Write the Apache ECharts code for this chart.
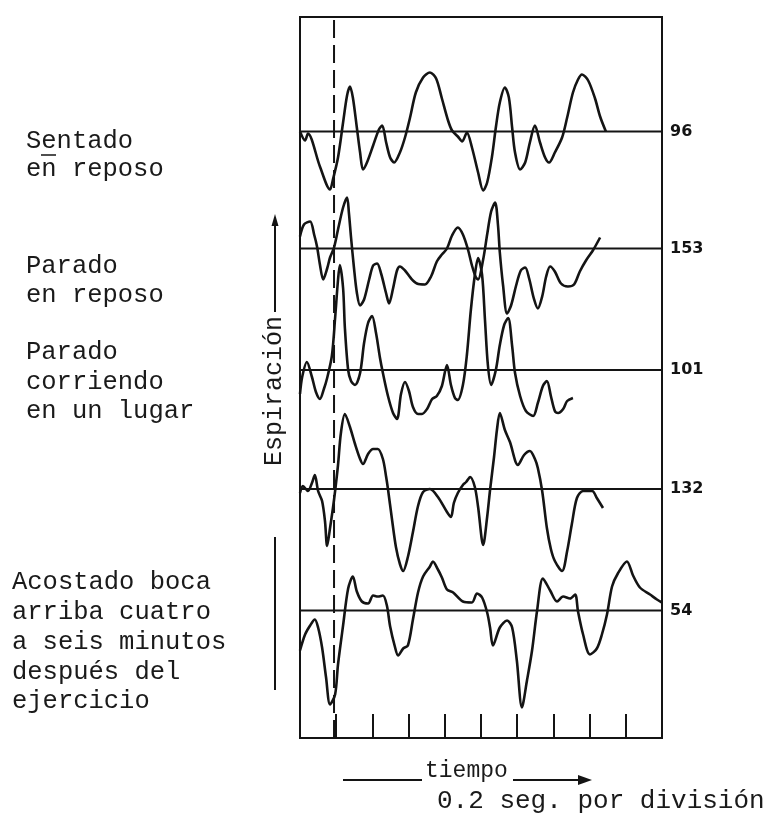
<!DOCTYPE html>
<html><head><meta charset="utf-8">
<script src="https://cdn.jsdelivr.net/npm/echarts/dist/echarts.min.js"></script>
<style>html,body{margin:0;padding:0;background:#fff}#c{width:770px;height:824px}</style>
</head><body><div id="c"></div>
<script>
// time in divisions (0.2 s per division); amplitude = deflection from each trace's baseline
const timeRange = [-1, 9];
const divisionTicks = [0, 1, 2, 3, 4, 5, 6, 7, 8];
const markerTime = -0.06;
const traceLabels = ['96', '153', '101', '132', '54'];
const baselineLevels = [606.5, 489.5, 368, 249, 127.5];

const sentadoReposo = [[-1,0],[-0.86,-9],[-0.78,-2],[-0.45,-35],[-0.17,-58],[-0.09,-48],[0.05,-26],[0.19,9],[0.30,36],[0.38,45],[0.46,34],[0.57,4],[0.66,-21],[0.74,-38],[0.85,-31],[1.02,-14],[1.18,2],[1.27,6],[1.38,-11],[1.49,-26],[1.60,-31],[1.76,-21],[1.90,-6],[2.04,14],[2.20,39],[2.40,54],[2.59,59],[2.76,53],[2.92,33],[3.09,11],[3.20,1],[3.36,-5],[3.48,-10],[3.61,-1],[3.75,-16],[3.92,-41],[4.06,-59],[4.17,-51],[4.30,-26],[4.41,4],[4.52,29],[4.66,44],[4.77,34],[4.86,4],[4.94,-21],[5.08,-38],[5.22,-31],[5.35,-11],[5.49,6],[5.63,-11],[5.77,-26],[5.88,-31],[6.04,-21],[6.24,-6],[6.38,14],[6.54,39],[6.68,52],[6.79,57],[6.96,51],[7.15,33],[7.29,15],[7.45,0]];

const paradoReposo = [[-1,12],[-0.89,24],[-0.72,27],[-0.61,14],[-0.53,2],[-0.45,-16],[-0.36,-31],[-0.25,-20],[-0.17,-9],[-0.06,1],[0.05,19],[0.19,41],[0.30,51],[0.35,36],[0.41,11],[0.49,-19],[0.57,-44],[0.66,-57],[0.77,-51],[0.91,-31],[1.02,-17],[1.13,-15],[1.24,-25],[1.38,-45],[1.46,-55],[1.57,-40],[1.68,-22],[1.76,-18],[1.90,-22],[2.07,-30],[2.23,-35],[2.45,-36],[2.62,-28],[2.78,-13],[2.92,-6],[3.06,0],[3.20,13],[3.36,21],[3.50,14],[3.64,-1],[3.75,-17],[3.86,-29],[3.92,-31],[4.06,-11],[4.17,14],[4.28,37],[4.39,46],[4.47,23],[4.52,-4],[4.61,-37],[4.72,-65],[4.83,-57],[4.97,-37],[5.10,-22],[5.22,-19],[5.33,-30],[5.46,-50],[5.57,-60],[5.69,-48],[5.80,-28],[5.91,-18],[6.04,-23],[6.21,-35],[6.40,-38],[6.57,-36],[6.73,-23],[6.90,-12],[7.09,-2],[7.29,11]];

const paradoCorriendo = [[-1,-24],[-0.94,-7],[-0.81,8],[-0.67,-7],[-0.56,-22],[-0.45,-29],[-0.34,-19],[-0.25,-8],[-0.12,14],[-0.03,52],[0.05,90],[0.10,105],[0.19,82],[0.24,42],[0.33,0],[0.41,-11],[0.52,-15],[0.66,-3],[0.77,27],[0.88,47],[0.99,54],[1.10,37],[1.21,12],[1.29,-3],[1.43,-26],[1.57,-43],[1.68,-49],[1.79,-24],[1.90,-12],[2.01,-21],[2.12,-37],[2.26,-44],[2.37,-44],[2.51,-39],[2.65,-29],[2.78,-26],[2.92,-16],[3.06,5],[3.17,-15],[3.28,-28],[3.36,-30],[3.50,-15],[3.61,15],[3.72,60],[3.83,95],[3.92,112],[4.03,95],[4.11,50],[4.19,5],[4.28,-15],[4.41,0],[4.52,25],[4.64,45],[4.75,52],[4.86,24],[4.94,-3],[5.08,-26],[5.24,-41],[5.44,-46],[5.57,-33],[5.71,-16],[5.82,-11],[5.93,-26],[6.04,-41],[6.13,-43],[6.27,-39],[6.38,-31],[6.54,-28]];

const paradoDespues = [[-1,-4],[-0.92,3],[-0.78,-2],[-0.67,6],[-0.59,14],[-0.50,-2],[-0.39,-12],[-0.31,-32],[-0.25,-57],[-0.17,-39],[-0.09,-19],[-0.03,-2],[0.05,24],[0.13,56],[0.24,75],[0.38,62],[0.52,45],[0.66,30],[0.74,25],[0.88,35],[1.02,40],[1.15,40],[1.29,30],[1.38,12],[1.43,0],[1.54,-30],[1.65,-58],[1.76,-75],[1.85,-82],[1.98,-68],[2.12,-43],[2.26,-17],[2.40,-3],[2.59,0],[2.81,-8],[3.06,-23],[3.17,-28],[3.25,-14],[3.36,-4],[3.50,4],[3.59,7],[3.70,12],[3.83,2],[3.92,-18],[4.06,-56],[4.17,-28],[4.25,-1],[4.36,32],[4.44,59],[4.52,76],[4.66,59],[4.80,47],[5.02,24],[5.19,34],[5.35,38],[5.49,30],[5.57,21],[5.69,-2],[5.82,-39],[5.93,-60],[6.04,-72],[6.24,-82],[6.38,-62],[6.51,-35],[6.65,-9],[6.82,-2],[7.07,-2],[7.20,-9],[7.37,-19]];

const acostado = [[-1,-40],[-0.86,-24],[-0.72,-15],[-0.59,-9],[-0.50,-17],[-0.39,-37],[-0.28,-67],[-0.17,-94],[-0.03,-84],[0.05,-54],[0.19,-15],[0.33,22],[0.46,34],[0.57,19],[0.71,9],[0.88,7],[1.02,15],[1.15,14],[1.29,15],[1.40,5],[1.49,-16],[1.62,-36],[1.71,-45],[1.85,-38],[1.98,-35],[2.12,-9],[2.26,18],[2.40,34],[2.59,44],[2.67,49],[2.81,41],[2.92,33],[3.06,21],[3.23,18],[3.50,9],[3.75,8],[3.89,17],[4.03,13],[4.17,-2],[4.25,-17],[4.33,-35],[4.52,-17],[4.72,-10],[4.86,-17],[4.99,-50],[5.13,-97],[5.27,-70],[5.41,-40],[5.55,0],[5.71,32],[5.91,20],[6.10,9],[6.27,14],[6.46,12],[6.60,16],[6.68,-1],[6.82,-24],[7.01,-44],[7.20,-38],[7.34,-24],[7.48,-4],[7.62,24],[7.78,37],[8.03,49],[8.20,35],[8.39,23],[8.67,16],[8.86,11],[9.00,8]];

const traces = [sentadoReposo, paradoReposo, paradoCorriendo, paradoDespues, acostado];

const INK = '#141414';
const MONO = "'Liberation Mono', 'DejaVu Sans Mono', monospace";
const chart = echarts.init(document.getElementById('c'), null, {renderer: 'canvas'});

const series = [];
traces.forEach((tr, i) => {
  series.push({
    type: 'line', data: [[timeRange[0], baselineLevels[i]], [timeRange[1], baselineLevels[i]]],
    showSymbol: false, silent: true, z: 2,
    lineStyle: {color: INK, width: 2},
    endLabel: {show: true, formatter: traceLabels[i], distance: 8, color: INK,
      fontFamily: "'DejaVu Sans', sans-serif", fontWeight: 'bold', fontSize: 16}
  });
  series.push({
    type: 'line', data: tr.map(p => [p[0], baselineLevels[i] + p[1]]),
    showSymbol: false, silent: true, smooth: 0.3, z: 3,
    lineStyle: {color: INK, width: 2.6}
  });
});
series.push({
  type: 'line', data: [[markerTime, 0], [markerTime, 721]], showSymbol: false, silent: true, z: 2,
  lineStyle: {color: INK, width: 2, type: [18, 7]}
});

function txt(x, y, s, size, extra) {
  return Object.assign({type: 'text', x: x, y: y, style: {text: s, fill: '#1a1a1a', font: size + 'px ' + MONO, textVerticalAlign: 'middle'}}, extra || {});
}
const leftLines = [
  [26, 141, 'Sentado'], [26, 169, 'en reposo'],
  [26, 266, 'Parado'], [26, 295, 'en reposo'],
  [26, 352, 'Parado'], [26, 382, 'corriendo'], [26, 411, 'en un lugar'],
  [12, 582, 'Acostado boca'], [12, 612, 'arriba cuatro'], [12, 642, 'a seis minutos'],
  [12, 672, 'después del'], [12, 701, 'ejercicio']
];
const graphic = leftLines.map(l => txt(l[0], l[1], l[2], 25.5));
graphic.push({type: 'line', shape: {x1: 41, y1: 155, x2: 56, y2: 155}, style: {stroke: INK, lineWidth: 1.5}});
// Espiración vertical label with arrow
graphic.push({type: 'text', x: 274, y: 391, rotation: Math.PI / 2,
  style: {text: 'Espiración', font: '25px ' + MONO, fill: '#1a1a1a', textAlign: 'center', textVerticalAlign: 'middle'}});
graphic.push({type: 'line', shape: {x1: 275, y1: 222, x2: 275, y2: 312}, style: {stroke: INK, lineWidth: 2}});
graphic.push({type: 'polygon', shape: {points: [[275, 214], [271.5, 226], [278.5, 226]]}, style: {fill: INK}});
graphic.push({type: 'line', shape: {x1: 275, y1: 537, x2: 275, y2: 690}, style: {stroke: INK, lineWidth: 2}});
// tiempo arrow
graphic.push({type: 'line', shape: {x1: 343, y1: 780, x2: 422, y2: 780}, style: {stroke: INK, lineWidth: 2}});
graphic.push(txt(425, 771, 'tiempo', 23));
graphic.push({type: 'line', shape: {x1: 513, y1: 780, x2: 582, y2: 780}, style: {stroke: INK, lineWidth: 2}});
graphic.push({type: 'polygon', shape: {points: [[592, 780], [578, 775], [578, 785]]}, style: {fill: INK}});
graphic.push(txt(437, 801, '0.2 seg. por división', 26));

chart.setOption({
  animation: false,
  backgroundColor: '#fff',
  grid: {left: 300, top: 17, width: 362, height: 721, show: true, borderColor: INK, borderWidth: 2, backgroundColor: 'transparent'},
  xAxis: {type: 'value', min: timeRange[0], max: timeRange[1], interval: 1,
    axisLine: {show: false}, axisLabel: {show: false}, splitLine: {show: false},
    axisTick: {show: true, inside: true, length: 24, lineStyle: {color: INK, width: 2}}},
  yAxis: {type: 'value', min: 0, max: 721, show: false, splitLine: {show: false}},
  series: series,
  graphic: graphic
});
</script></body></html>
